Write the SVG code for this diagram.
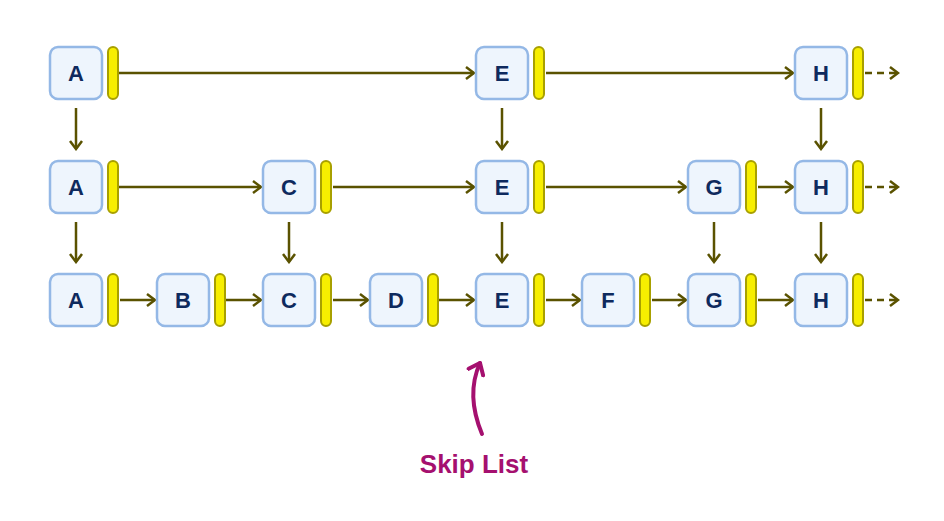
<svg xmlns="http://www.w3.org/2000/svg" width="944" height="521" viewBox="0 0 944 521">
<style>
.box{fill:#eef5fd;stroke:#94b8e6;stroke-width:2.5}
.bar{fill:#f7ee00;stroke:#a8a000;stroke-width:2}
.lbl{font-family:"Liberation Sans",Arial,sans-serif;font-weight:bold;font-size:22px;fill:#0e2a5e;text-anchor:middle}
.c{stroke:#5a5200;stroke-width:2.5;fill:none;marker-end:url(#ah)}
.d{stroke-dasharray:7 5}
</style>
<defs>
<marker id="ah" markerWidth="12" markerHeight="14" refX="10" refY="7" orient="auto" markerUnits="userSpaceOnUse"><path d="M2,1 L10,7 L2,13" fill="none" stroke="#5a5200" stroke-width="2.5"/></marker>
<marker id="mh" markerWidth="24" markerHeight="24" refX="12" refY="12" orient="auto" markerUnits="userSpaceOnUse"><path d="M2,4 L12,12 L2,20" fill="none" stroke="#a5106f" stroke-width="4" stroke-linecap="round" stroke-linejoin="round"/></marker>
<g id="n"><rect class="box" x="0" y="0" width="52" height="52" rx="8"/><rect class="bar" x="58" y="0" width="10" height="52" rx="5"/></g>
</defs>
<g id="connectors">
<path class="c" d="M113,73 H474"/><path class="c" d="M546,73 H793"/><path class="c d" d="M865,73 H898"/>
<path class="c" d="M113,187 H261"/><path class="c" d="M333,187 H474"/><path class="c" d="M546,187 H686"/><path class="c" d="M758,187 H793"/><path class="c d" d="M865,187 H898"/>
<path class="c" d="M120,300 H155"/><path class="c" d="M226,300 H261"/><path class="c" d="M333,300 H368"/><path class="c" d="M439,300 H474"/><path class="c" d="M546,300 H580"/><path class="c" d="M652,300 H686"/><path class="c" d="M758,300 H793"/><path class="c d" d="M865,300 H898"/>
<path class="c" d="M76,108 V149"/><path class="c" d="M502,108 V149"/><path class="c" d="M821,108 V149"/>
<path class="c" d="M76,222 V262"/><path class="c" d="M289,222 V262"/><path class="c" d="M502,222 V262"/><path class="c" d="M714,222 V262"/><path class="c" d="M821,222 V262"/>
</g>
<g id="A1"><use href="#n" x="50" y="47"/><text class="lbl" x="76" y="81">A</text></g>
<g id="E1"><use href="#n" x="476" y="47"/><text class="lbl" x="502" y="81">E</text></g>
<g id="H1"><use href="#n" x="795" y="47"/><text class="lbl" x="821" y="81">H</text></g>
<g id="A2"><use href="#n" x="50" y="161"/><text class="lbl" x="76" y="195">A</text></g>
<g id="C2"><use href="#n" x="263" y="161"/><text class="lbl" x="289" y="195">C</text></g>
<g id="E2"><use href="#n" x="476" y="161"/><text class="lbl" x="502" y="195">E</text></g>
<g id="G2"><use href="#n" x="688" y="161"/><text class="lbl" x="714" y="195">G</text></g>
<g id="H2"><use href="#n" x="795" y="161"/><text class="lbl" x="821" y="195">H</text></g>
<g id="A3"><use href="#n" x="50" y="274"/><text class="lbl" x="76" y="308">A</text></g>
<g id="B3"><use href="#n" x="157" y="274"/><text class="lbl" x="183" y="308">B</text></g>
<g id="C3"><use href="#n" x="263" y="274"/><text class="lbl" x="289" y="308">C</text></g>
<g id="D3"><use href="#n" x="370" y="274"/><text class="lbl" x="396" y="308">D</text></g>
<g id="E3"><use href="#n" x="476" y="274"/><text class="lbl" x="502" y="308">E</text></g>
<g id="F3"><use href="#n" x="582" y="274"/><text class="lbl" x="608" y="308">F</text></g>
<g id="G3"><use href="#n" x="688" y="274"/><text class="lbl" x="714" y="308">G</text></g>
<g id="H3"><use href="#n" x="795" y="274"/><text class="lbl" x="821" y="308">H</text></g>
<g id="label">
<path d="M482,434 C472,410 470,385 480,363" fill="none" stroke="#a5106f" stroke-width="4" stroke-linecap="round" marker-end="url(#mh)"/>
<text x="474" y="473" font-family="'Comic Sans MS','Liberation Sans',sans-serif" font-weight="bold" font-size="26" fill="#a5106f" text-anchor="middle">Skip List</text>
</g>
</svg>
